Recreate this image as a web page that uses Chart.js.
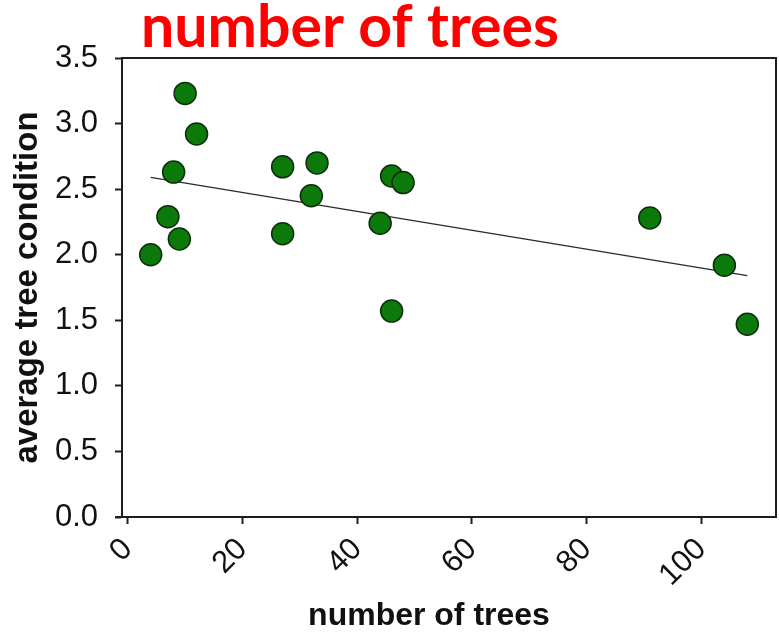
<!DOCTYPE html>
<html>
<head>
<meta charset="utf-8">
<script src="https://cdn.jsdelivr.net/npm/chart.js@4.4.1/dist/chart.umd.min.js"></script>
<style>
  html, body { margin: 0; padding: 0; background: #ffffff; }
  #wrap { width: 779px; height: 632px; position: relative; }
</style>
</head>
<body>
<div id="wrap"><canvas id="chart" width="779" height="632"></canvas></div>
<script>
// Number of trees per site and the average condition of those trees
const treeCounts = [10, 12, 8, 7, 9, 4, 27, 33, 32, 27, 46, 48, 44, 46, 91, 104, 108];
const avgCondition = [3.23, 2.92, 2.63, 2.29, 2.12, 2.0, 2.67, 2.70, 2.45, 2.16, 2.6, 2.55, 2.24, 1.57, 2.28, 1.92, 1.47];

// Fitted trend line, start and end
const trendX = [4, 108];
const trendY = [2.59, 1.84];

// Axis tick values
const xTickValues = [0, 20, 40, 60, 80, 100];
const yTickValues = [0, 0.5, 1.0, 1.5, 2.0, 2.5, 3.0, 3.5];

const chartTitle = 'number of trees';
const xTitle = 'number of trees';
const yTitle = 'average tree condition';

const points = treeCounts.map((x, i) => ({ x: x, y: avgCondition[i] }));
const trend = trendX.map((x, i) => ({ x: x, y: trendY[i] }));

const AXIS_COLOR = '#1e1e1e';
const LABEL_FONT = 'Liberation Sans, Arial, sans-serif';

// Closes the plot box (top and right edges), writes the red heading
// and the x axis title
const frameAndHeading = {
  id: 'frameAndHeading',
  afterDraw(chart) {
    const { ctx, chartArea: a } = chart;
    ctx.save();
    ctx.strokeStyle = AXIS_COLOR;
    ctx.lineWidth = 2;
    ctx.beginPath();
    ctx.moveTo(a.left, a.top);
    ctx.lineTo(a.right, a.top);
    ctx.lineTo(a.right, a.bottom);
    ctx.stroke();
    // bottom axis runs a little past the left axis
    ctx.beginPath();
    ctx.moveTo(a.left - 7, a.bottom);
    ctx.lineTo(a.left, a.bottom);
    ctx.stroke();

    ctx.fillStyle = '#ff0000';
    ctx.font = 'bold 59px Lato, "Open Sans", sans-serif';
    ctx.textBaseline = 'alphabetic';
    ctx.textAlign = 'left';
    ctx.fillText(chartTitle, 141, 47);

    ctx.fillStyle = '#111';
    ctx.font = 'bold 32px ' + LABEL_FONT;
    ctx.textAlign = 'center';
    ctx.fillText(xTitle, 429, 625);
    ctx.restore();
  }
};

new Chart(document.getElementById('chart'), {
  type: 'scatter',
  data: {
    datasets: [
      {
        type: 'scatter',
        data: points,
        backgroundColor: '#0b7a0b',
        borderColor: '#0c2e0c',
        borderWidth: 1.5,
        pointRadius: 11,
        pointHoverRadius: 11,
        order: 1
      },
      {
        type: 'line',
        data: trend,
        borderColor: '#2a2a2a',
        borderWidth: 1.3,
        pointRadius: 0,
        fill: false,
        order: 2
      }
    ]
  },
  plugins: [frameAndHeading],
  options: {
    responsive: false,
    animation: false,
    layout: { autoPadding: false, padding: { top: 58, right: 3, left: 0, bottom: 0 } },
    plugins: {
      legend: { display: false },
      tooltip: { enabled: false }
    },
    scales: {
      x: {
        type: 'linear',
        min: -1,
        max: 113,
        afterBuildTicks(scale) { scale.ticks = xTickValues.map(v => ({ value: v })); },
        afterFit(scale) {
          scale.height = 115;
          scale.paddingLeft = 0;
          scale.paddingRight = 0;
        },
        border: { display: true, color: AXIS_COLOR, width: 2 },
        grid: { drawOnChartArea: false, drawTicks: true, tickLength: 7, tickWidth: 2, tickColor: AXIS_COLOR },
        ticks: {
          minRotation: 45,
          maxRotation: 45,
          padding: 7,
          color: '#111',
          font: { family: LABEL_FONT, size: 31 }
        },
        title: { display: false }
      },
      y: {
        type: 'linear',
        min: 0,
        max: 3.5,
        afterBuildTicks(scale) { scale.ticks = yTickValues.map(v => ({ value: v })); },
        afterFit(scale) {
          scale.width = 122;
          scale.paddingTop = 0;
          scale.paddingBottom = 0;
        },
        border: { display: true, color: AXIS_COLOR, width: 2 },
        grid: { drawOnChartArea: false, drawTicks: true, tickLength: 7, tickWidth: 2, tickColor: AXIS_COLOR },
        ticks: {
          padding: 17,
          color: '#111',
          font: { family: LABEL_FONT, size: 31 },
          callback: v => Number(v).toFixed(1)
        },
        title: {
          display: true,
          text: yTitle,
          color: '#111',
          font: { family: LABEL_FONT, size: 33, weight: 'bold' },
          padding: { top: 8, bottom: 0 }
        }
      }
    }
  }
});
</script>
</body>
</html>
